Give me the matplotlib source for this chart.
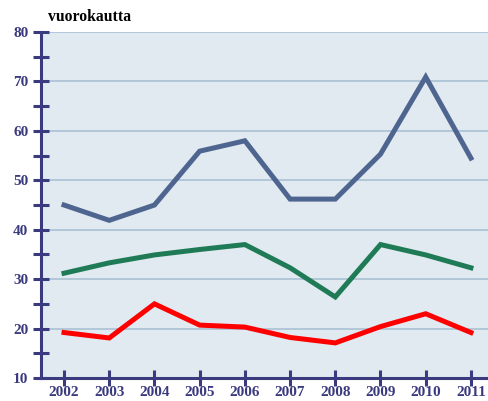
import matplotlib
matplotlib.use("Agg")
import matplotlib.pyplot as plt
from matplotlib.ticker import MultipleLocator

years = [2002, 2003, 2004, 2005, 2006, 2007, 2008, 2009, 2010, 2011]
blue_vals = [45.0, 41.9, 45.0, 55.9, 58.0, 46.2, 46.2, 55.3, 70.9, 54.5]
green_vals = [31.2, 33.3, 34.9, 36.0, 37.0, 32.3, 26.4, 37.0, 34.9, 32.3]
red_vals = [19.2, 18.1, 25.0, 20.7, 20.3, 18.2, 17.1, 20.4, 23.0, 19.2]

navy = "#3a3a7e"

fig = plt.figure(figsize=(4.89, 4.01), dpi=100)
ax = fig.add_axes([0.0838, 0.0574, 0.9162, 0.8626])
ax.set_facecolor("#e1e9f1")

ax.plot(years, blue_vals, color="#4e668f", lw=3.6, solid_joinstyle="miter", zorder=3)
ax.plot(years, green_vals, color="#1f7a56", lw=3.6, solid_joinstyle="miter", zorder=3)
ax.plot(years, red_vals, color="#ff0000", lw=3.6, solid_joinstyle="miter", zorder=3)

ax.set_xlim(2001.49, 2011.4)
ax.set_ylim(10, 80)
ax.set_xticks(years)
ax.yaxis.set_major_locator(MultipleLocator(10))
ax.yaxis.set_minor_locator(MultipleLocator(5))
ax.grid(axis="y", which="major", color="#a9c1d4", lw=1.2, zorder=1)

for s in ["top", "right"]:
    ax.spines[s].set_visible(False)
for s in ["left", "bottom"]:
    ax.spines[s].set_color(navy)
    ax.spines[s].set_linewidth(2.2)

ax.tick_params(axis="both", which="both", direction="inout", color=navy, width=2.2, length=12)
ax.tick_params(axis="both", labelsize=11, labelcolor=navy)
ax.tick_params(axis="y", pad=3)
ax.tick_params(axis="x", pad=0)
for lab in ax.get_xticklabels() + ax.get_yticklabels():
    lab.set_fontfamily("Liberation Serif")
    lab.set_fontweight("bold")

fig.text(0.098, 0.948, "vuorokautta", fontsize=11.3, fontweight="bold",
         family="Liberation Serif", color="black", va="baseline")

fig.savefig("out.png", dpi=100)
